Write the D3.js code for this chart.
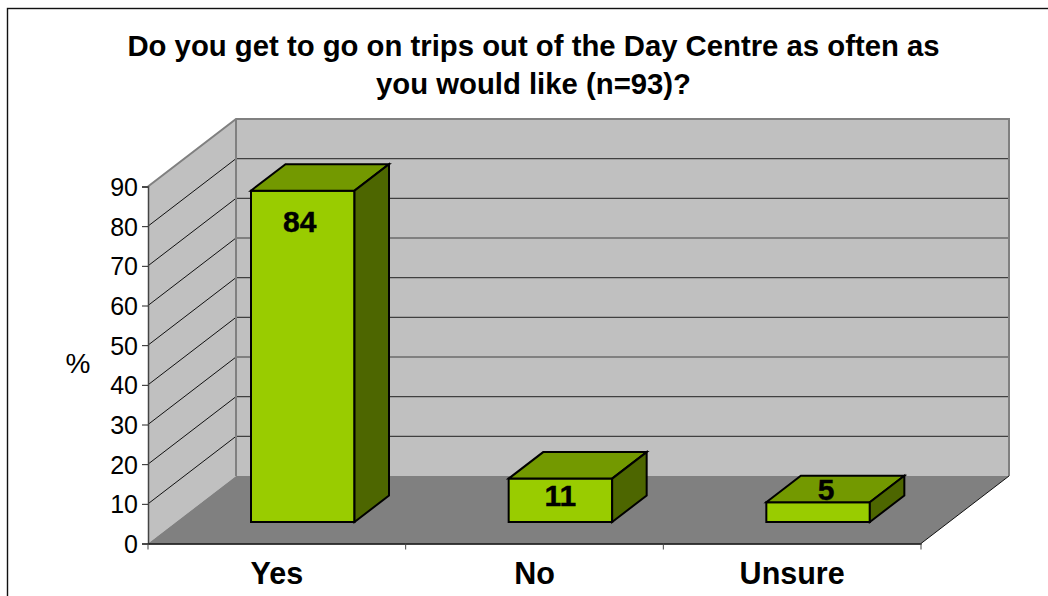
<!DOCTYPE html>
<html><head><meta charset="utf-8">
<script src="https://cdn.jsdelivr.net/npm/d3@7"></script>
<style>html,body{margin:0;padding:0;background:#fff}svg{display:block}text{font-family:"Liberation Sans",Arial,sans-serif;fill:#000}</style>
</head><body><svg id="c" width="1048" height="596"></svg>
<script>
const categories = ["Yes","No","Unsure"];
const values = [84,11,5];
const valueTicks = [0,10,20,30,40,50,60,70,80,90];
const titleLines = ["Do you get to go on trips out of the Day Centre as often as","you would like (n=93)?"];
const axisTitle = "%";

const svg = d3.select("#c");
const x = d3.scaleBand().domain(categories).range([148,921]).paddingInner(0).paddingOuter(0);
const y = d3.scaleLinear().domain([0,90]).range([543.5,186.5]);
const barHeight = d3.scaleLinear().domain([0,90]).range([0,355]);
const depth = {dx:88, dy:-67.5};
const barW = 103.5, barInset = 103, barDepth = {dx:34.5, dy:-26.5}, barLift = 21.5;
const labelShift = {Yes:[-3,41.5], No:[0,27.5], Unsure:[8,-2]};
const path = d3.line();
const poly = (pts,fill,stroke,sw)=>svg.append("path").attr("d",path(pts)+"Z").attr("fill",fill).attr("stroke",stroke||"none").attr("stroke-width",sw||0).attr("stroke-linejoin","miter");
const [x0,x1] = x.range();
const yTop = y(90), yBase = y(0);

// frame
svg.append("rect").attr("x",7.5).attr("y",8.5).attr("width",1060).attr("height",620).attr("fill","#fff").attr("stroke","#111").attr("stroke-width",1.4);

// walls & floor
poly([[x0+depth.dx,yTop+depth.dy],[x1+depth.dx,yTop+depth.dy],[x1+depth.dx,yBase+depth.dy],[x0+depth.dx,yBase+depth.dy]],"#C0C0C0");
poly([[x0,yBase],[x0+depth.dx,yBase+depth.dy],[x0+depth.dx,yTop+depth.dy],[x0,yTop]],"#C0C0C0");
poly([[x0,yBase],[x1,yBase],[x1+depth.dx,yBase+depth.dy],[x0+depth.dx,yBase+depth.dy]],"#808080");

// gridlines
valueTicks.filter(v=>v>0 && v<90).forEach(v=>{
  svg.append("line").attr("x1",x0+depth.dx).attr("x2",x1+depth.dx).attr("y1",y(v)+depth.dy).attr("y2",y(v)+depth.dy).attr("stroke","#404040").attr("stroke-width",1.2);
  svg.append("line").attr("x1",x0).attr("x2",x0+depth.dx).attr("y1",y(v)).attr("y2",y(v)+depth.dy).attr("stroke","#111").attr("stroke-width",1);
});
// wall outlines
svg.append("path").attr("d",path([[x0,yTop],[x0+depth.dx,yTop+depth.dy],[x1+depth.dx,yTop+depth.dy],[x1+depth.dx,yBase+depth.dy]])).attr("fill","none").attr("stroke","#808080").attr("stroke-width",2);
svg.append("line").attr("x1",x0+depth.dx).attr("x2",x0+depth.dx).attr("y1",yTop+depth.dy).attr("y2",yBase+depth.dy).attr("stroke","#808080").attr("stroke-width",2);
svg.append("line").attr("x1",x1).attr("x2",x1+depth.dx).attr("y1",yBase).attr("y2",yBase+depth.dy).attr("stroke","#111").attr("stroke-width",1);

// bars
categories.forEach((c,i)=>{
  const v = values[i];
  const l = x(c)+barInset, r = l+barW, b = yBase-barLift, t = b-barHeight(v);
  const {dx,dy} = barDepth;
  poly([[l,b],[r,b],[r,t],[l,t]],"#99CC00","#000",2);
  poly([[l,t],[r,t],[r+dx,t+dy],[l+dx,t+dy]],"#739900","#000",2);
  poly([[r,b],[r+dx,b+dy],[r+dx,t+dy],[r,t]],"#4D6600","#000",2);
  svg.append("text").attr("x",(l+r)/2+labelShift[c][0]).attr("y",t+labelShift[c][1]).attr("text-anchor","middle").attr("font-size",30).attr("font-weight","bold").attr("stroke","#000").attr("stroke-width",0.4).text(v);
});

// axes
const yAxis = d3.axisLeft(y).tickValues(valueTicks).tickSize(6).tickPadding(4);
const gy = svg.append("g").attr("transform",`translate(${x0},0)`).call(yAxis);
gy.selectAll("text").attr("font-size",25).attr("dy","0.36em").attr("font-family",'"Liberation Sans",Arial,sans-serif').attr("fill","#000");
gy.selectAll("line").attr("stroke","#222");
gy.select(".domain").attr("stroke","#444").attr("stroke-width",1.5);

const xAxis = d3.axisBottom(x).tickValues([]).tickSize(0);
const gx = svg.append("g").attr("transform",`translate(0,${yBase})`).call(xAxis);
gx.select(".domain").attr("stroke","#000").attr("stroke-width",1.6);
const edges = categories.map(c=>x(c)).concat([x1]);
edges.forEach(e=>svg.append("line").attr("x1",e).attr("x2",e).attr("y1",yBase).attr("y2",yBase+6).attr("stroke","#444"));
categories.forEach(c=>svg.append("text").attr("x",x(c)+x.bandwidth()/2).attr("y",584).attr("text-anchor","middle").attr("font-size",30.5).attr("font-weight","bold").text(c));

// titles
svg.append("text").attr("x",78).attr("y",373).attr("text-anchor","middle").attr("font-size",28).text(axisTitle);
titleLines.forEach((t,i)=>svg.append("text").attr("x",533.5).attr("y",[56,94][i]).attr("text-anchor","middle").attr("font-size",29.3).attr("font-weight","bold").text(t));
</script></body></html>
